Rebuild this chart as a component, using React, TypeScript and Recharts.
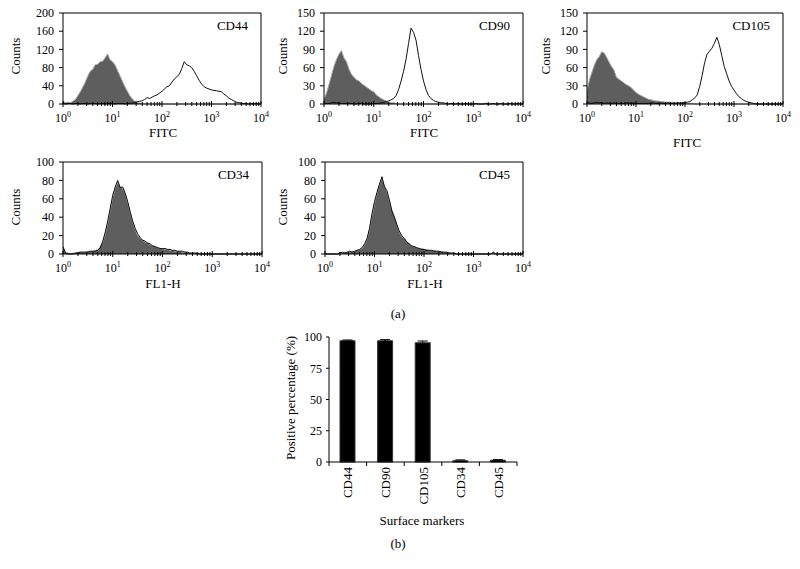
import React from "react"
import {
  Area,
  Bar,
  BarChart,
  ComposedChart,
  ErrorBar,
  Line,
  ReferenceLine,
  XAxis,
  YAxis,
} from "recharts"

const FONT = '"Liberation Serif", "Times New Roman", serif'

// fluorescence channels, 20 per decade (10^0 .. 10^4)
const channels = [
  1, 1.122, 1.259, 1.413, 1.585, 1.778, 1.995, 2.239, 2.512, 2.818, 3.162, 3.548, 3.981, 4.467, 5.012, 5.623, 6.31, 7.079, 7.943, 8.913,
  10, 11.22, 12.59, 14.13, 15.85, 17.78, 19.95, 22.39, 25.12, 28.18, 31.62, 35.48, 39.81, 44.67, 50.12, 56.23, 63.1, 70.79, 79.43, 89.13,
  100, 112.2, 125.9, 141.3, 158.5, 177.8, 199.5, 223.9, 251.2, 281.8, 316.2, 354.8, 398.1, 446.7, 501.2, 562.3, 631, 707.9, 794.3, 891.3,
  1000, 1122, 1259, 1413, 1585, 1778, 1995, 2239, 2512, 2818, 3162, 3548, 3981, 4467, 5012, 5623, 6310, 7079, 7943, 8913,
  10000,
]

const decadeTicks = [1, 10, 100, 1000, 10000]
const minorSteps = [2, 3, 4, 5, 6, 7, 8, 9]
const logTicks = [
  ...decadeTicks.slice(0, 4).flatMap((d) => [d, ...minorSteps.map((m) => m * d)]),
  10000,
]

// counts, gray = isotype control, line = stained
const cd44Isotype = [
  5, 3, 4, 3, 6, 10, 18, 27, 37, 48, 61, 72, 76, 86, 87, 93, 94, 101, 110, 97,
  93, 86, 74, 62, 50, 38, 28, 18, 11, 6, 3, 2, 1, 0, 1, 0, 0, 0, 0, 0,
  0, 0, 0, 0, 0, 0, 0, 0, 0, 0, 0, 0, 0, 0, 0, 0, 0, 0, 0, 0,
  0, 0, 0, 0, 0, 0, 0, 0, 0, 0, 0, 0, 0, 0, 0, 0, 0, 0, 0, 0,
  0,
]
const cd44Stained = [
  1, 0, 1, 1, 0, 1, 1, 0, 1, 1, 0, 1, 1, 1, 0, 1, 1, 0, 1, 1,
  1, 0, 1, 1, 1, 0, 1, 2, 2, 4, 5, 6, 7, 10, 14, 12, 15, 18, 20, 24,
  28, 33, 38, 40, 48, 55, 60, 65, 78, 93, 86, 84, 80, 72, 62, 52, 44, 38, 35, 33,
  31, 30, 29, 28, 27, 22, 18, 13, 10, 7, 4, 3, 2, 1, 1, 0, 1, 0, 1, 0,
  0,
]

const cd90Isotype = [
  8, 18, 32, 47, 62, 73, 82, 88, 76, 70, 58, 49, 44, 40, 38, 34, 31, 28, 25, 22,
  20, 15, 12, 9, 7, 5, 3, 2, 2, 1, 0, 0, 0, 0, 0, 0, 0, 0, 0, 0,
  0, 0, 0, 0, 0, 0, 0, 0, 0, 0, 0, 0, 0, 0, 0, 0, 0, 0, 0, 0,
  0, 0, 0, 0, 0, 0, 0, 0, 0, 0, 0, 0, 0, 0, 0, 0, 0, 0, 0, 0,
  0,
]
const cd90Stained = [
  0, 1, 1, 2, 3, 2, 2, 1, 1, 1, 1, 1, 0, 0, 1, 1, 0, 0, 0, 0,
  1, 1, 1, 2, 3, 4, 5, 7, 9, 14, 24, 38, 54, 74, 100, 125, 118, 105, 80, 57,
  38, 24, 14, 9, 6, 4, 3, 2, 2, 1, 0, 1, 0, 0, 1, 0, 0, 1, 0, 0,
  0, 1, 0, 0, 0, 1, 0, 0, 1, 0, 0, 1, 0, 0, 0, 1, 0, 0, 1, 0,
  0,
]

const cd105Isotype = [
  22, 40, 52, 64, 73, 78, 86, 84, 77, 69, 62, 56, 44, 41, 38, 35, 32, 30, 27, 23,
  19, 16, 14, 12, 10, 8, 7, 6, 5, 5, 4, 4, 3, 3, 3, 3, 2, 2, 2, 2,
  2, 1, 1, 1, 0, 0, 0, 0, 0, 0, 0, 0, 0, 0, 0, 0, 0, 0, 0, 0,
  0, 0, 0, 0, 0, 0, 0, 0, 0, 0, 0, 0, 0, 0, 0, 0, 0, 0, 0, 0,
  0,
]
const cd105Stained = [
  1, 2, 1, 2, 3, 2, 2, 1, 2, 1, 1, 2, 1, 1, 1, 1, 2, 1, 1, 1,
  1, 1, 1, 1, 1, 1, 1, 2, 1, 1, 1, 1, 1, 2, 1, 1, 1, 2, 1, 2,
  2, 3, 4, 7, 10, 15, 29, 47, 68, 82, 87, 92, 100, 110, 98, 80, 62, 50, 38, 29,
  23, 17, 12, 9, 6, 4, 3, 2, 1, 0, 0, 0, 0, 0, 0, 0, 0, 0, 0, 0,
  0,
]

const cd34Isotype = [
  7, 2, 1, 0, 1, 1, 2, 2, 2, 2, 3, 3, 3, 4, 5, 8, 13, 22, 34, 48,
  62, 72, 78, 73, 71, 66, 56, 45, 35, 27, 20, 17, 15, 13, 12, 10, 9, 8, 7, 6,
  6, 5, 5, 4, 4, 3, 3, 3, 2, 2, 2, 1, 1, 1, 0, 0, 0, 0, 0, 0,
  0, 0, 0, 0, 0, 0, 0, 0, 0, 0, 0, 0, 0, 0, 0, 0, 0, 0, 0, 0,
  0,
]
const cd34Stained = [
  8, 1, 0, 0, 0, 1, 1, 2, 2, 2, 2, 3, 3, 3, 4, 7, 14, 24, 36, 50,
  64, 73, 80, 72, 73, 66, 57, 46, 36, 28, 22, 18, 15, 14, 12, 11, 9, 8, 7, 6,
  6, 6, 5, 5, 4, 4, 3, 3, 3, 2, 2, 1, 1, 1, 1, 0, 0, 0, 0, 0,
  0, 0, 0, 0, 0, 0, 0, 0, 0, 0, 0, 0, 0, 0, 0, 0, 0, 0, 0, 0,
  0,
]

const cd45Isotype = [
  0, 0, 0, 0, 0, 0, 2, 1, 2, 2, 2, 3, 3, 4, 5, 6, 10, 16, 27, 42,
  55, 66, 75, 83, 74, 68, 58, 48, 41, 33, 24, 19, 17, 14, 11, 9, 8, 7, 6, 6,
  5, 5, 4, 4, 4, 3, 3, 3, 2, 2, 2, 1, 1, 0, 0, 0, 0, 0, 0, 0,
  0, 0, 0, 0, 0, 0, 0, 0, 2, 0, 0, 0, 0, 0, 0, 0, 0, 0, 0, 0,
  0,
]
const cd45Stained = [
  0, 0, 0, 0, 0, 0, 1, 2, 1, 2, 3, 2, 3, 4, 5, 7, 11, 17, 28, 44,
  57, 67, 76, 84, 73, 69, 59, 47, 40, 32, 25, 20, 17, 13, 11, 9, 8, 7, 6, 5,
  5, 4, 4, 4, 3, 3, 3, 2, 2, 2, 1, 1, 1, 0, 0, 0, 0, 0, 0, 0,
  0, 0, 0, 0, 0, 0, 0, 0, 2, 0, 0, 0, 0, 0, 0, 0, 0, 0, 0, 0,
  0,
]

const markers = ["CD44", "CD90", "CD105", "CD34", "CD45"]
const positivePct = [97, 97, 95.4, 1, 1.4]
const positiveSd = [0.6, 0.9, 1.4, 0.7, 0.5]

const panels = [
  { marker: "CD44", left: 63, top: 13, width: 198, height: 91, yMax: 200, yTicks: [0, 40, 80, 120, 160, 200], iso: cd44Isotype, stained: cd44Stained },
  { marker: "CD90", left: 324, top: 13, width: 199, height: 91, yMax: 150, yTicks: [0, 30, 60, 90, 120, 150], iso: cd90Isotype, stained: cd90Stained },
  { marker: "CD105", left: 587, top: 13, width: 196, height: 91, yMax: 150, yTicks: [0, 30, 60, 90, 120, 150], iso: cd105Isotype, stained: cd105Stained },
  { marker: "CD34", left: 63, top: 162, width: 199, height: 92, yMax: 100, yTicks: [0, 20, 40, 60, 80, 100], iso: cd34Isotype, stained: cd34Stained },
  { marker: "CD45", left: 325, top: 162, width: 198, height: 92, yMax: 100, yTicks: [0, 20, 40, 60, 80, 100], iso: cd45Isotype, stained: cd45Stained },
]

const LogTick = (props: any) => {
  const { x, y, payload } = props
  const lg = Math.log10(payload.value)
  const exp = Math.round(lg)
  const major = Math.abs(lg - exp) < 1e-6
  return (
    <g>
      <line x1={x} x2={x} y1={y - (major ? 3 : 2)} y2={y + (major ? 3 : 2)} stroke="#000" strokeWidth={1} />
      {major && (
        <text x={x} y={y + 18} textAnchor="middle" fontSize={12} fontFamily={FONT} fill="#000">
          10
          <tspan dy={-5} fontSize={8}>
            {exp}
          </tspan>
        </text>
      )}
    </g>
  )
}

const MarkerTick = (props: any) => {
  const { x, y, payload, index } = props
  const off = payload.offset || 18.8
  return (
    <g>
      <line x1={x - off} x2={x - off} y1={y} y2={y + 4} stroke="#000" />
      {index === markers.length - 1 && <line x1={x + off} x2={x + off} y1={y} y2={y + 4} stroke="#000" />}
      <text
        transform={`translate(${x + 4.5},${y + 5}) rotate(-90)`}
        textAnchor="end"
        fontSize={13}
        fontFamily={FONT}
        fill="#000"
      >
        {payload.value}
      </text>
    </g>
  )
}

const Caption = ({ x, y, text, rotate = false, align = "center" }: any) => (
  <div
    style={{
      position: "absolute",
      left: x,
      top: y,
      transform: `translate(${align === "right" ? "-100%" : "-50%"},-50%)${rotate ? " rotate(-90deg)" : ""}`,
      fontSize: 13,
      lineHeight: 1,
      whiteSpace: "nowrap",
      color: "#000",
    }}
  >
    {text}
  </div>
)

const Histogram = ({ p }: any) => {
  const data = channels.map((ch, i) => ({ ch, iso: p.iso[i], stained: p.stained[i] }))
  return (
    <div style={{ position: "absolute", left: p.left - 60, top: p.top - 13 }}>
      <ComposedChart
        width={p.width + 70}
        height={p.height + 58}
        data={data}
        margin={{ top: 13, right: 10, left: 20, bottom: 15 }}
      >
        <XAxis
          dataKey="ch"
          type="number"
          scale="log"
          domain={[1, 10000]}
          allowDataOverflow
          ticks={logTicks}
          interval={0}
          tick={<LogTick />}
          tickLine={false}
          tickSize={0}
          tickMargin={0}
          height={30}
          axisLine={{ stroke: "#000" }}
        />
        <YAxis
          type="number"
          domain={[0, p.yMax]}
          ticks={p.yTicks}
          interval={0}
          width={40}
          tickSize={4}
          tickMargin={5}
          tickLine={{ stroke: "#000" }}
          axisLine={{ stroke: "#000" }}
          tick={{ fill: "#000", fontSize: 12, fontFamily: FONT }}
        />
        <ReferenceLine y={p.yMax} stroke="#000" />
        <ReferenceLine x={10000} stroke="#000" />
        <Area
          dataKey="iso"
          type="linear"
          fill="#5e5e5e"
          fillOpacity={1}
          stroke="#a6a6a6"
          strokeWidth={1}
          dot={false}
          activeDot={false}
          isAnimationActive={false}
        />
        <Line
          dataKey="stained"
          type="linear"
          stroke="#111"
          strokeWidth={1}
          dot={false}
          activeDot={false}
          isAnimationActive={false}
        />
      </ComposedChart>
    </div>
  )
}

export default function App() {
  const barData = markers.map((m, i) => ({ marker: m, pct: positivePct[i], sd: positiveSd[i] }))
  return (
    <div
      style={{
        position: "absolute",
        left: 0,
        top: 0,
        width: 800,
        height: 569,
        background: "#fff",
        fontFamily: FONT,
        overflow: "hidden",
      }}
    >
      {panels.map((p) => (
        <Histogram key={p.marker} p={p} />
      ))}
      {panels.map((p) => (
        <Caption key={p.marker + "-t"} x={p.left + p.width - 13} y={p.top + 12} text={p.marker} align="right" />
      ))}
      <Caption x={15} y={56} text="Counts" rotate />
      <Caption x={282} y={56} text="Counts" rotate />
      <Caption x={545} y={56} text="Counts" rotate />
      <Caption x={15} y={207} text="Counts" rotate />
      <Caption x={282} y={207} text="Counts" rotate />
      <Caption x={163} y={132} text="FITC" />
      <Caption x={424} y={132} text="FITC" />
      <Caption x={687} y={142} text="FITC" />
      <Caption x={163} y={283} text="FL1-H" />
      <Caption x={425} y={283} text="FL1-H" />
      <Caption x={398} y={313} text="(a)" />

      <div style={{ position: "absolute", left: 269, top: 327 }}>
        <BarChart
          width={258}
          height={185}
          data={barData}
          margin={{ top: 10, right: 10, left: 20, bottom: 0 }}
          barCategoryGap={0}
        >
          <XAxis
            dataKey="marker"
            height={50}
            interval={0}
            tick={<MarkerTick />}
            tickLine={false}
            tickSize={0}
            tickMargin={0}
            axisLine={{ stroke: "#000" }}
          />
          <YAxis
            type="number"
            domain={[0, 100]}
            ticks={[0, 25, 50, 75, 100]}
            interval={0}
            width={40}
            tickSize={3}
            tickMargin={4}
            tickLine={{ stroke: "#000" }}
            axisLine={{ stroke: "#000" }}
            tick={{ fill: "#000", fontSize: 12, fontFamily: FONT }}
          />
          <Bar dataKey="pct" fill="#000" stroke="#333" barSize={15} isAnimationActive={false}>
            <ErrorBar dataKey="sd" width={5} stroke="#000" strokeWidth={1} direction="y" />
          </Bar>
        </BarChart>
      </div>
      <Caption x={290} y={398} text="Positive percentage (%)" rotate />
      <Caption x={422} y={520} text="Surface markers" />
      <Caption x={398} y={543} text="(b)" />
    </div>
  )
}
